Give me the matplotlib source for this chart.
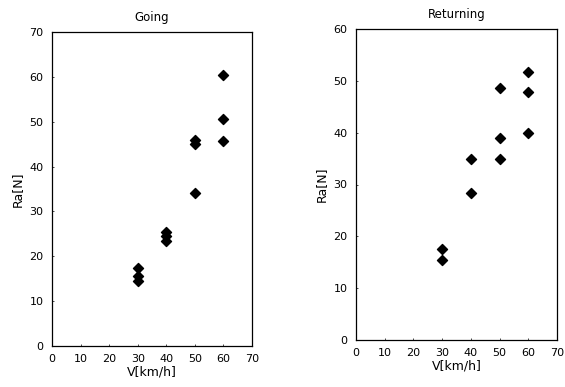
import matplotlib.pyplot as plt

# Going
going_v = [30, 30, 30, 40, 40, 40, 50, 50, 50, 60, 60, 60]
going_ra = [17.5, 15.5, 14.5, 25.5, 24.5, 23.5, 46.0, 45.0, 34.2, 60.5, 50.7, 45.8]

# Returning
ret_v = [30, 30, 40, 40, 50, 50, 50, 60, 60, 60]
ret_ra = [17.5, 15.5, 35.0, 28.3, 48.7, 39.0, 35.0, 51.8, 47.8, 40.0]

x_ticks = [0, 10, 20, 30, 40, 50, 60, 70]

fig = plt.figure(figsize=(5.65, 3.87), dpi=100)
W, H = 565.0, 387.0

def make_ax(left, right, top, bottom):
    return fig.add_axes([left / W, 1 - bottom / H, (right - left) / W, (bottom - top) / H])

def style(ax, title, ymax):
    ax.set_xlim(0, 70)
    ax.set_ylim(0, ymax)
    ax.set_xticks(x_ticks)
    ax.set_yticks(range(0, ymax + 1, 10))
    ax.tick_params(direction='in', length=1.5, labelsize=8, width=0.5, pad=6)
    ax.set_xlabel('V[km/h]', fontsize=9, labelpad=1)
    ax.set_ylabel('Ra[N]', fontsize=9, labelpad=4)
    ax.set_title(title, fontsize=8.5, pad=8)
    for s in ax.spines.values():
        s.set_linewidth(0.9)

ax1 = make_ax(52, 252, 32, 346)
ax1.scatter(going_v, going_ra, marker='D', s=26, color='black')
style(ax1, 'Going', 70)

ax2 = make_ax(356, 557, 29, 340)
ax2.scatter(ret_v, ret_ra, marker='D', s=26, color='black')
style(ax2, 'Returning', 60)

fig.savefig('out.png', dpi=100)
